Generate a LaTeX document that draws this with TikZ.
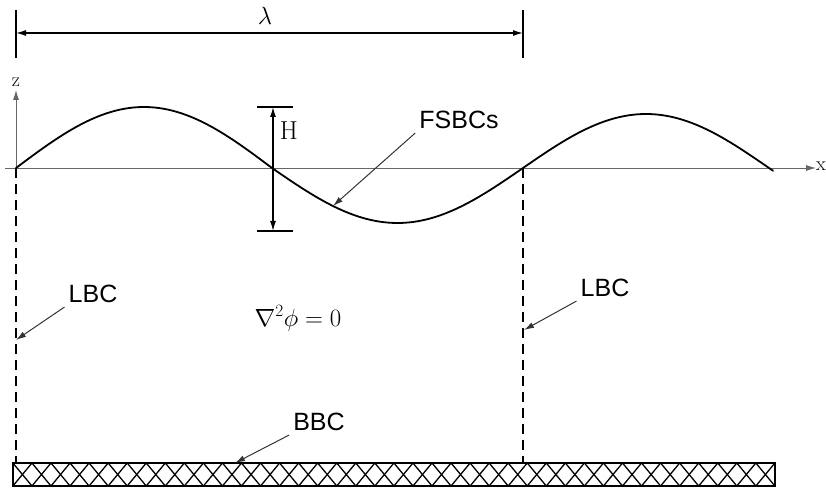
\documentclass[tikz,border=0pt]{standalone}
\usepackage{fontspec}
\usepackage{amsmath}
\usepackage{tikz}
\usetikzlibrary{positioning, arrows.meta, calc}
\newfontfamily\lblfont{Liberation Sans}

\begin{document}
\begin{tikzpicture}[
        x=1pt, y=-1pt,
        wave/.style={line width=1.8pt, line cap=round},
        axis/.style={-{Latex[length=10pt,width=6pt]}, line width=0.9pt, black!60},
        dimline/.style={line width=1.3pt},
        dimarr/.style={{Latex[length=10pt,width=6pt]}-{Latex[length=10pt,width=6pt]}, line width=1.3pt},
        lbcline/.style={dash pattern=on 10pt off 6pt, line width=1.3pt},
        bclabel/.style={font=\lblfont\fontsize{25}{29}\selectfont, inner sep=4pt},
        bcarr/.style={-{Latex[length=10pt,width=6pt]}, line width=1pt, black!80},
        mathlabel/.style={font=\fontsize{26}{31}\selectfont, inner sep=0pt},
        bedbox/.style={draw, line width=1.2pt, minimum width=762pt, minimum height=23pt, inner sep=0pt},
        hatch/.style={line width=1.3pt},
    ]
    \useasboundingbox (0,0) rectangle (826,494);

    % =============================================
    % AXES
    % =============================================
    \coordinate (o)  at (16,168);
    \coordinate (p1) at (272,168);
    \coordinate (p2) at (523,168);

    \draw[axis] (5,168) -- (816,168);
    \draw[axis] (16,177) -- (16,90);
    \node[font=\fontsize{20}{23}\selectfont, inner sep=0pt] (zlab) at (16,82) {z};
    \node[font=\fontsize{20}{23}\selectfont, inner sep=0pt, anchor=east] (xlab) at (826,166) {x};

    % =============================================
    % FREE SURFACE
    % =============================================
    \draw[wave] plot[domain=16:272, samples=60] (\x, {168-61*sin((\x-16)/256*180)})
             -- plot[domain=272:523, samples=60] (\x, {168+55*sin((\x-272)/251*180)})
             -- plot[domain=523:773, samples=60] (\x, {168-54*sin((\x-523)/246*180)});

    % wave length
    \draw[dimline] (16,10) -- (16,58);
    \draw[dimline] (523,10) -- (523,58);
    \coordinate (lamL) at (16,33);
    \coordinate (lamR) at (523,33);
    \draw[dimarr] (lamL) -- (lamR);
    \node[mathlabel] (lam) at (265,16) {$\lambda$};

    % wave height
    \draw[dimline] (257,107) -- (293,107);
    \draw[dimline] (257,231) -- (293,231);
    \coordinate (htop) at (273,107);
    \coordinate (hbot) at (273,231);
    \draw[dimarr] (htop) -- (hbot);
    \node[mathlabel] (hlab) at (289,131) {H};

    \node[bclabel] (fsbc) at (459,120) {FSBCs};
    \coordinate (fsbctip) at (333,206);
    \draw[bcarr] (fsbc.south west) -- (fsbctip);

    % =============================================
    % LATERAL BOUNDARIES
    % =============================================
    \node[bedbox] (bed) at (394,474.5) {};
    \draw[lbcline] (o) -- (o |- bed.north);
    \draw[lbcline] (p2) -- (p2 |- bed.north);

    \node[bclabel] (lbcL) at (93,294) {LBC};
    \coordinate (lbcLtip) at (16,340);
    \draw[bcarr] (lbcL.south west) -- (lbcLtip);

    \node[bclabel] (lbcR) at (605,288) {LBC};
    \coordinate (lbcRtip) at (524,330);
    \draw[bcarr] (lbcR.south west) -- (lbcRtip);

    \node[mathlabel, anchor=base] (lap) at (298,326) {$\nabla^2\phi=0$};

    % =============================================
    % BOTTOM
    % =============================================
    \begin{scope}
        \clip (bed.south west) rectangle (bed.north east);
        \foreach \i in {0,...,39} {
            \draw[hatch] ($(bed.south west)+(\i*19.05,0)$) -- ++(19.05,-23);
            \draw[hatch] ($(bed.north west)+(\i*19.05,0)$) -- ++(19.05,23);
        }
    \end{scope}
    \node[bedbox] at (bed) {};

    \node[bclabel] (bbc) at (319,422) {BBC};
    \coordinate (bbctip) at (235,463);
    \draw[bcarr] (bbc.south west) -- (bbctip);

\end{tikzpicture}
\end{document}
